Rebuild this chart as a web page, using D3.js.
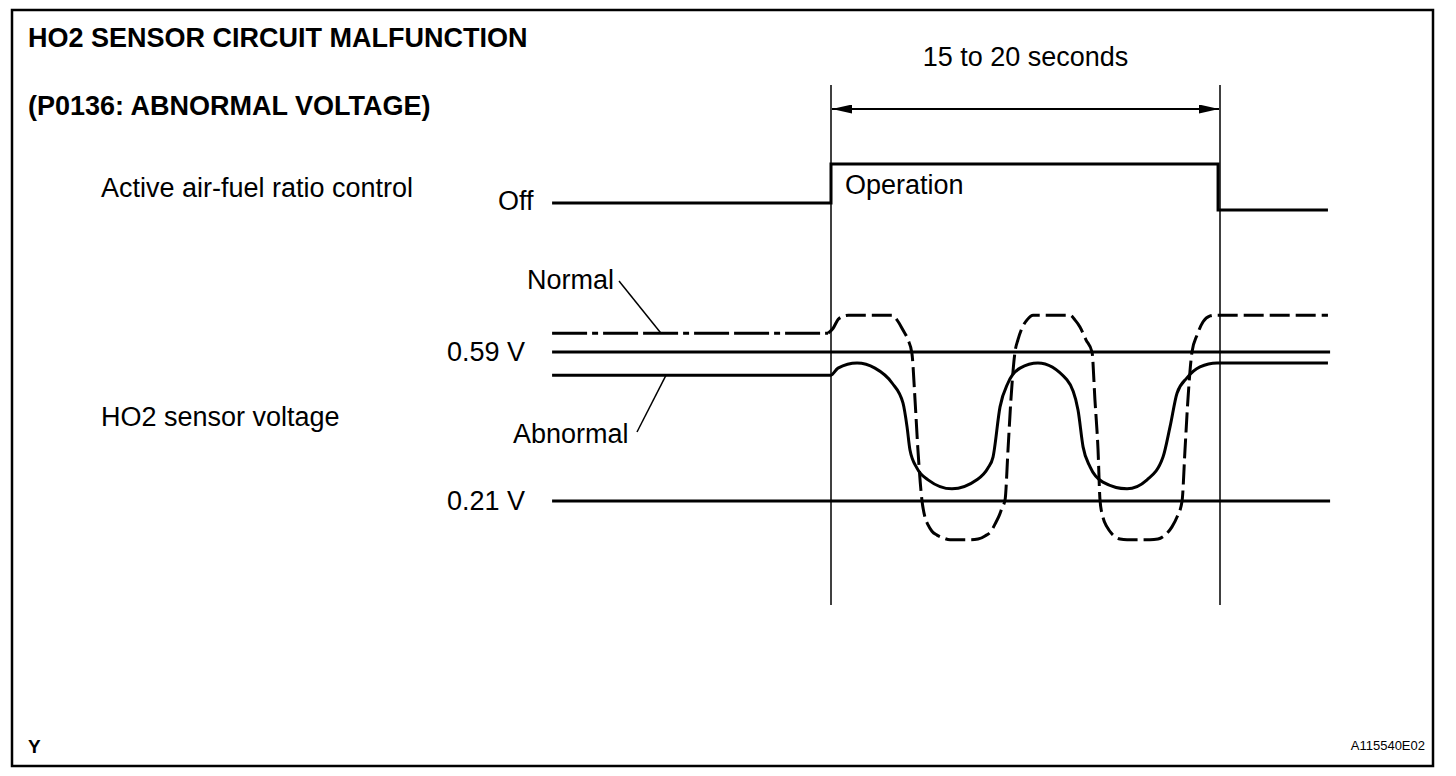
<!DOCTYPE html>
<html>
<head>
<meta charset="utf-8">
<script src="https://cdn.jsdelivr.net/npm/d3@7"></script>
<style>
  html, body { margin: 0; padding: 0; background: #fff; }
  svg { display: block; }
  text { font-family: "Liberation Sans", Arial, sans-serif; fill: #000; }
</style>
</head>
<body>
<svg id="chart" width="1456" height="776"></svg>
<script>
// ---- data (time in seconds, t=0 at start of active control; voltage in V) ----
const title1 = "HO2 SENSOR CIRCUIT MALFUNCTION";
const title2 = "(P0136: ABNORMAL VOLTAGE)";
const spanLabel = "15 to 20 seconds";
const windowTimes = [0, 20];
const tStart = -14.34, tEnd = 25.55, tRefEnd = 25.66;

const controlT     = [-14.34, 0, 0, 19.9, 19.9, 25.55];
const controlLevel = [0, 0, 1, 1, -0.18, -0.18];

const thresholds = [0.59, 0.21];
const thresholdLabels = ["0.59 V", "0.21 V"];

const normalT = [-14.34, -0.15, 0.1, 0.4, 0.9,
                 3.14, 3.39, 3.70, 3.96, 4.16, 4.32, 4.47, 4.68, 4.83, 4.99, 5.19, 5.45, 5.76, 6.12,
                 7.15, 7.56, 7.92, 8.23, 8.43, 8.64, 8.79, 8.95, 9.10, 9.25, 9.46, 9.61, 9.82, 10.08, 10.39,
                 12.29, 12.54, 12.80, 13.11, 13.42, 13.57, 13.73, 13.83, 13.98, 14.19, 14.45, 14.86, 15.22,
                 16.40, 16.81, 17.17, 17.53, 17.79, 18.05, 18.20, 18.35, 18.56, 18.82, 19.13, 19.49, 19.74, 25.55];
const normalV = [0.638, 0.638, 0.650, 0.675, 0.684,
                 0.684, 0.672, 0.646, 0.621, 0.587, 0.468, 0.340, 0.210, 0.169, 0.149, 0.133, 0.123, 0.116, 0.111,
                 0.111, 0.113, 0.121, 0.133, 0.151, 0.172, 0.192, 0.213, 0.340, 0.468, 0.590, 0.621, 0.651, 0.672, 0.684,
                 0.684, 0.672, 0.654, 0.621, 0.590, 0.468, 0.340, 0.213, 0.169, 0.144, 0.126, 0.113, 0.111,
                 0.111, 0.113, 0.123, 0.144, 0.169, 0.210, 0.340, 0.468, 0.590, 0.633, 0.667, 0.682, 0.684, 0.684];

const abnormalT = [-14.34, 0, 0.36, 1.34, 2.26, 3.14, 3.70, 3.91, 4.06, 4.42, 4.99, 6.22,
                   7.50, 8.07, 8.33, 8.69, 9.10, 9.72, 10.64,
                   12.13, 12.70, 12.96, 13.32, 13.98, 15.22,
                   16.25, 17.07, 17.43, 17.79, 18.30, 18.97, 19.85, 25.55];
const abnormalV = [0.531, 0.531, 0.549, 0.562, 0.549, 0.511, 0.460, 0.399, 0.340, 0.294, 0.264, 0.241,
                   0.264, 0.294, 0.322, 0.450, 0.511, 0.549, 0.562,
                   0.519, 0.442, 0.348, 0.297, 0.258, 0.241,
                   0.264, 0.322, 0.399, 0.485, 0.524, 0.552, 0.562, 0.562];

// ---- scales ----
const x = d3.scaleLinear().domain([0, 20]).range([831, 1220]);
const yV = d3.scaleLinear().domain([0.21, 0.59]).range([501, 352]);
const yC = d3.scaleLinear().domain([0, 1]).range([203, 164]);

const svg = d3.select("#chart");
const FS = 27;

// frame
svg.append("rect").attr("x", 12).attr("y", 10).attr("width", 1421).attr("height", 756)
  .attr("fill", "none").attr("stroke", "#000").attr("stroke-width", 2.5);

// titles
svg.append("text").attr("x", 28).attr("y", 47).attr("font-size", 27).attr("font-weight", "bold").text(title1);
svg.append("text").attr("x", 28).attr("y", 115).attr("font-size", 27).attr("font-weight", "bold").text(title2);

// window vertical lines
svg.selectAll("line.win").data(windowTimes).join("line").attr("class", "win")
  .attr("x1", d => x(d)).attr("x2", d => x(d)).attr("y1", 85).attr("y2", 605)
  .attr("stroke", "#000").attr("stroke-width", 1.5);

// double arrow
const defs = svg.append("defs");
defs.append("marker").attr("id", "arr").attr("viewBox", "0 0 20 9").attr("refX", 20).attr("refY", 4.5)
  .attr("markerWidth", 20).attr("markerHeight", 9).attr("markerUnits", "userSpaceOnUse").attr("orient", "auto-start-reverse")
  .append("path").attr("d", "M0,0 L20,4.5 L0,9 Z").attr("fill", "#000");
svg.append("line").attr("x1", x(windowTimes[0]) + 1).attr("x2", x(windowTimes[1]) - 1).attr("y1", 109).attr("y2", 109)
  .attr("stroke", "#000").attr("stroke-width", 2)
  .attr("marker-start", "url(#arr)").attr("marker-end", "url(#arr)");
svg.append("text").attr("x", (x(windowTimes[0]) + x(windowTimes[1])) / 2).attr("y", 66)
  .attr("text-anchor", "middle").attr("font-size", FS).text(spanLabel);

// control signal
const ctrl = controlT.map((t, i) => [t, controlLevel[i]]);
svg.append("path").attr("d", d3.line().x(d => x(d[0])).y(d => yC(d[1]))(ctrl))
  .attr("fill", "none").attr("stroke", "#000").attr("stroke-width", 3).attr("stroke-linejoin", "miter");
svg.append("text").attr("x", 101).attr("y", 197).attr("font-size", FS).text("Active air-fuel ratio control");
svg.append("text").attr("x", 498).attr("y", 210).attr("font-size", FS).text("Off");
svg.append("text").attr("x", 845).attr("y", 194).attr("font-size", FS).text("Operation");

// thresholds
svg.selectAll("line.thr").data(thresholds).join("line").attr("class", "thr")
  .attr("x1", x(tStart)).attr("x2", x(tRefEnd)).attr("y1", d => yV(d)).attr("y2", d => yV(d))
  .attr("stroke", "#000").attr("stroke-width", 3);
svg.selectAll("text.thr").data(thresholds).join("text").attr("class", "thr")
  .attr("x", 447).attr("y", d => yV(d) + 9).attr("font-size", FS).text((d, i) => thresholdLabels[i]);
svg.append("text").attr("x", 101).attr("y", 426).attr("font-size", FS).text("HO2 sensor voltage");

// curves
const vLine = d3.line().x(d => x(d[0])).y(d => yV(d[1])).curve(d3.curveMonotoneX);
const normal = normalT.map((t, i) => [t, normalV[i]]);
const abnormal = abnormalT.map((t, i) => [t, abnormalV[i]]);

svg.append("path").attr("d", vLine(abnormal)).attr("fill", "none").attr("stroke", "#000").attr("stroke-width", 3);
svg.append("path").attr("d", d3.line().x(d => x(d[0])).y(d => yV(d[1]))(normal.slice(0, 2)))
  .attr("fill", "none").attr("stroke", "#000").attr("stroke-width", 3).attr("stroke-dasharray", "35,5,6,5,35,5");
svg.append("path").attr("d", vLine(normal.slice(1))).attr("fill", "none").attr("stroke", "#000")
  .attr("stroke-width", 3).attr("stroke-dasharray", "20,6");

// labels with leaders
svg.append("text").attr("x", 527).attr("y", 289).attr("font-size", FS).text("Normal");
svg.append("line").attr("x1", 619).attr("y1", 281).attr("x2", x(-8.74)).attr("y2", yV(0.638))
  .attr("stroke", "#000").attr("stroke-width", 1.5);
svg.append("text").attr("x", 513).attr("y", 443).attr("font-size", FS).text("Abnormal");
svg.append("line").attr("x1", 637).attr("y1", 432).attr("x2", x(-8.48)).attr("y2", yV(0.531))
  .attr("stroke", "#000").attr("stroke-width", 1.5);

// footer marks
svg.append("text").attr("x", 28).attr("y", 753).attr("font-size", 19).attr("font-weight", "bold").text("Y");
svg.append("text").attr("x", 1425).attr("y", 750).attr("text-anchor", "end").attr("font-size", 13).text("A115540E02");
</script>
</body>
</html>
